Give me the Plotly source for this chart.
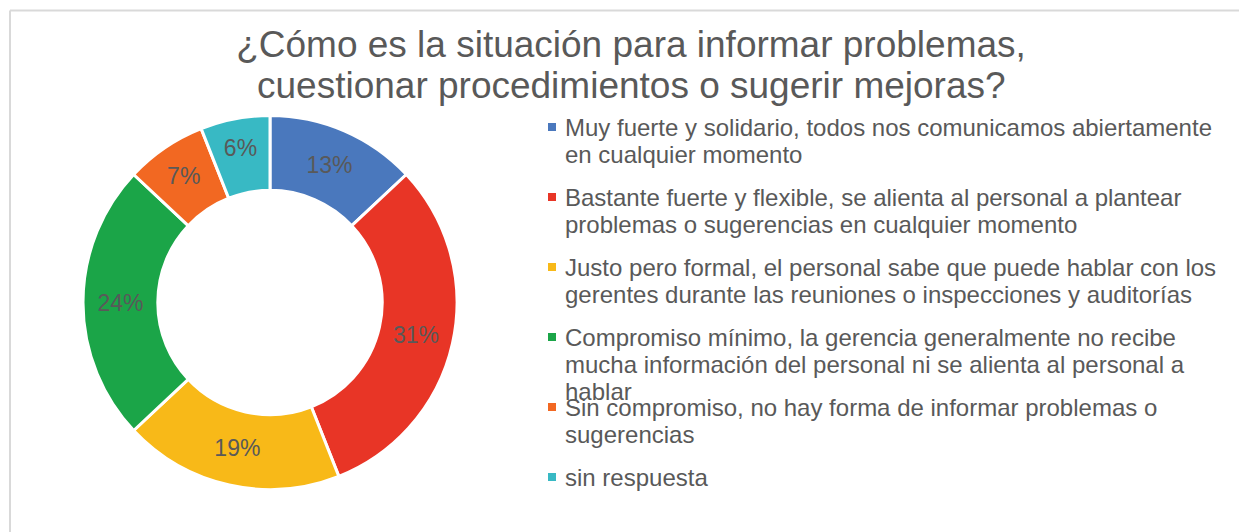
import plotly.graph_objects as go

# survey answers, clockwise from 12 o'clock
labels = [
    "Muy fuerte y solidario, todos nos comunicamos abiertamente<br>en cualquier momento",
    "Bastante fuerte y flexible, se alienta al personal a plantear<br>problemas o sugerencias en cualquier momento",
    "Justo pero formal, el personal sabe que puede hablar con los<br>gerentes durante las reuniones o inspecciones y auditorías",
    "Compromiso mínimo, la gerencia generalmente no recibe<br>mucha información del personal ni se alienta al personal a<br>hablar",
    "Sin compromiso, no hay forma de informar problemas o<br>sugerencias",
    "sin respuesta",
]
values = [13, 31, 19, 24, 7, 6]
colors = ["#4a78bd", "#e83526", "#f8b918", "#1ba548", "#f26822", "#38b9c4"]

title_lines = ["¿Cómo es la situación para informar problemas,",
               "cuestionar procedimientos o sugerir mejoras?"]

W, H = 1239, 532
grey = "#595959"
font = "Arial, Liberation Sans"

def py(pix):
    # pixel row from the top -> paper y
    return 1 - pix / H

fig = go.Figure(go.Pie(
    labels=labels,
    values=values,
    hole=0.6,
    sort=False,
    direction="clockwise",
    rotation=0,
    marker=dict(colors=colors, line=dict(color="white", width=3)),
    texttemplate="%{percent:.0%}",
    textposition="inside",
    insidetextorientation="horizontal",
    textfont=dict(family=font, size=23, color=grey),
    domain=dict(x=[83 / W, 457 / W], y=[py(490), py(115)]),
    showlegend=False,
))

# legend drawn by hand: the Excel original packs wrapped lines tighter than plotly's legend
shapes = []
annotations = []
for i, (lab, col) in enumerate(zip(labels, colors)):
    yc = 127 + i * 70
    shapes.append(dict(type="rect", xref="paper", yref="paper",
                       x0=548 / W, x1=556 / W, y0=py(yc + 4), y1=py(yc - 4),
                       fillcolor=col, line=dict(width=0)))
    for j, line in enumerate(lab.split("<br>")):
        annotations.append(dict(text=line, xref="paper", yref="paper",
                                x=563 / W, y=py(yc + j * 27), xanchor="left", yanchor="middle",
                                showarrow=False, font=dict(family=font, size=24, color=grey)))

# second title line
annotations.append(dict(text=title_lines[1], xref="paper", yref="paper",
                        x=631 / W, y=py(86), xanchor="center", yanchor="middle",
                        showarrow=False, font=dict(family=font, size=37, color=grey)))

# light frame along top and left edge
shapes.append(dict(type="line", xref="paper", yref="paper", x0=10 / W, x1=1, y0=py(10.5), y1=py(10.5),
                   line=dict(color="#d9d9d9", width=2)))
shapes.append(dict(type="line", xref="paper", yref="paper", x0=10 / W, x1=10 / W, y0=0, y1=py(10.5),
                   line=dict(color="#d9d9d9", width=2)))

fig.update_layout(
    width=W, height=H,
    margin=dict(l=0, r=0, t=0, b=0),
    paper_bgcolor="white",
    title=dict(text=title_lines[0], x=631 / W, xanchor="center", y=py(44), yanchor="middle",
               font=dict(family=font, size=37, color=grey)),
    shapes=shapes,
    annotations=annotations,
)

fig.write_html("out.html", config={"displayModeBar": False},
               post_script="document.body.style.margin='0';")
